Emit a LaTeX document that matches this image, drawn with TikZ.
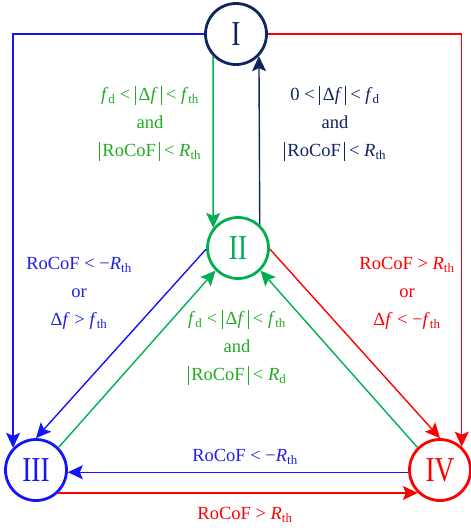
\documentclass[tikz,border=0pt]{standalone}
\usepackage{fontspec}
\setmainfont{Liberation Serif}
\usepackage{graphicx}
\usepackage{tikz}
\usetikzlibrary{arrows.meta}
\definecolor{navy}{RGB}{16,36,96}
\definecolor{verde}{RGB}{0,176,80}
\definecolor{verdetxt}{RGB}{34,170,34}
\definecolor{azul}{RGB}{20,20,250}
\definecolor{azultxt}{RGB}{30,30,230}
\definecolor{vermelho}{RGB}{255,0,0}
\newcommand{\fv}{\textit{f}}
\newcommand{\Rv}{\textit{R}}
\newcommand{\lo}[1]{\textsubscript{#1}}
\newcommand{\barra}{\rule[-4pt]{0.5pt}{19pt}}
\newcommand{\absv}[1]{\barra\,#1\,\barra}
\newcommand{\rom}[1]{\scalebox{0.78}[1]{#1}}
\tikzset{
  estado/.style={circle,draw,line width=2.8pt,minimum size=61pt,inner sep=0pt,font=\fontsize{35}{35}\selectfont},
  seta/.style={line width=1.4pt,-{Stealth[length=15pt,width=14pt,inset=3pt]}},
  rotulo/.style={align=center,font=\fontsize{18.5}{28}\selectfont},
}
\begin{document}
\begin{tikzpicture}[x=1pt,y=-1pt]
\useasboundingbox (0,0) rectangle (471,531);
% Estados
\node[estado,navy] (I) at (236,34) {\rom{I}};
\node[estado,verde] (II) at (238,248) {\rom{II}};
\node[estado,azul] (III) at (36,470) {\rom{III}};
\node[estado,vermelho] (IV) at (440,470) {\rom{IV}};
% Transicoes externas
\draw[seta,azul] (I.west) -| (III.136);
\draw[seta,vermelho] (I.east) -| (IV.47);
% I e II
\draw[seta,verde] (I.224) -- (II.141);
\draw[seta,navy] (II.47) -- (I.316);
% Diagonais
\draw[seta,azul] (II.182) -- (III.90);
\draw[seta,vermelho] (II.358) -- (IV.90);
\draw[seta,verde] (III.45) -- (II.225);
\draw[seta,verde] (IV.135) -- (II.315);
% Base
\draw[seta,azul] (IV.184) -- (III.356);
\draw[seta,vermelho] (III.314) -- (IV.226);
% Condicoes
\node[rotulo,verdetxt] (c12) at (150,123) {\fv\lo{d} < \absv{Δ\fv} < \fv\lo{th}\\ and\\ \absv{RoCoF} < \Rv\lo{th}};
\node[rotulo,navy] (c21) at (335,123) {0 < \absv{Δ\fv} < \fv\lo{d}\\ and\\ \absv{RoCoF} < \Rv\lo{th}};
\node[rotulo,azultxt] (c3) at (79,293) {RoCoF < −\Rv\lo{th}\\ or\\ Δ\fv\ > \fv\lo{th}};
\node[rotulo,vermelho] (c4) at (407,293) {RoCoF > \Rv\lo{th}\\ or\\ Δ\fv\ < −\fv\lo{th}};
\node[rotulo,verdetxt] (c2) at (237,347) {\fv\lo{d} < \absv{Δ\fv} < \fv\lo{th}\\ and\\ \absv{RoCoF} < \Rv\lo{d}};
\node[rotulo,azultxt] (c43) at (245,457) {RoCoF < −\Rv\lo{th}};
\node[rotulo,vermelho] (c34) at (245,515) {RoCoF > \Rv\lo{th}};
\end{tikzpicture}
\end{document}
